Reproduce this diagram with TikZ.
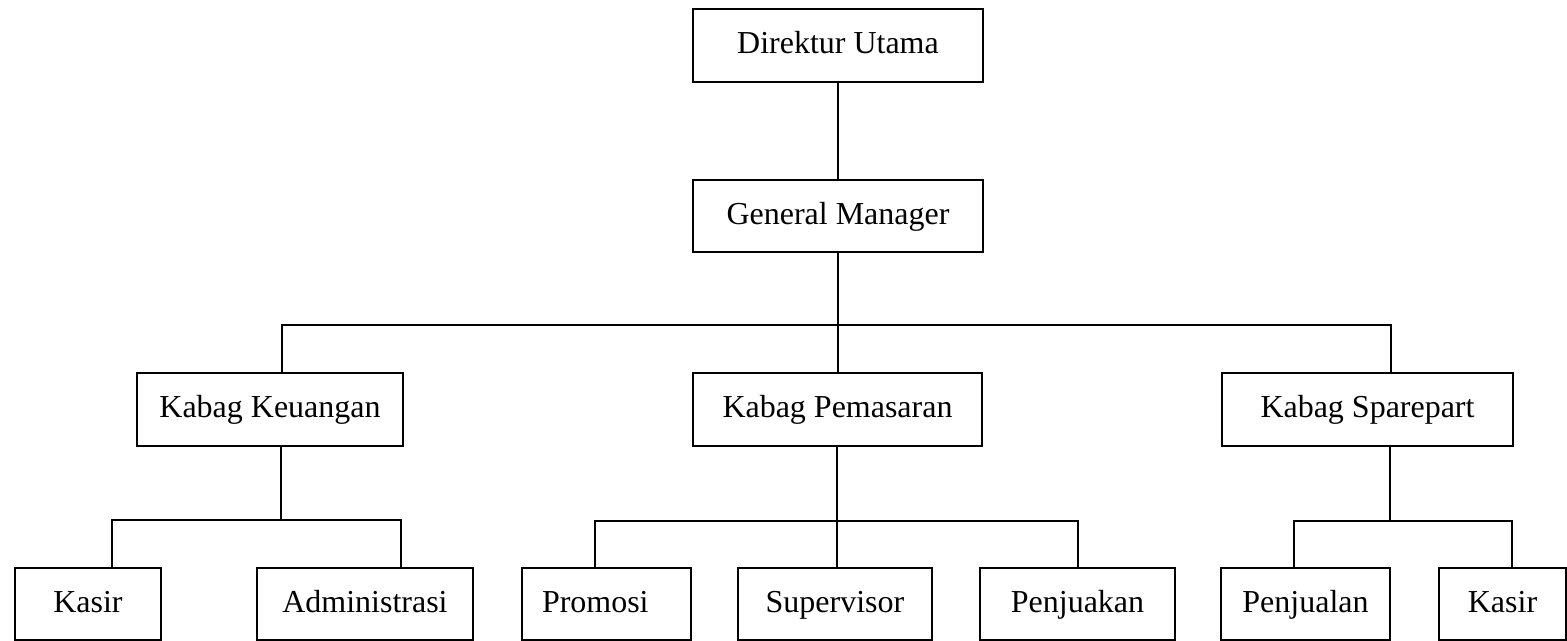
\documentclass[tikz,border=0pt]{standalone}
\usepackage{fontspec}
\setmainfont{Liberation Serif}

\tikzset{
  unit/.style={draw, line width=0.6pt, minimum height=0.73cm, inner sep=0pt,
    text height=0.69em, text depth=0.22em,
    font=\fontsize{9.1}{11}\selectfont},
  link/.style={line width=0.55pt},
}

\begin{document}
\begin{tikzpicture}
  \useasboundingbox (0,0) rectangle (15.67,-6.41);

  % Top levels
  \node[unit, minimum width=2.90cm] (du) at (8.38,-0.455) {Direktur Utama};
  \node[unit, minimum width=2.90cm, minimum height=0.72cm] (gm) at (8.38,-2.16) {General Manager};

  % Kepala bagian
  \node[unit, minimum width=2.66cm] (kk) at (2.70,-4.095) {Kabag Keuangan};
  \node[unit, minimum width=2.89cm] (kp) at (8.375,-4.095) {Kabag Pemasaran};
  \node[unit, minimum width=2.91cm] (ks) at (13.675,-4.095) {Kabag Sparepart};

  % Staf
  \node[unit, minimum width=1.46cm, minimum height=0.72cm] (kasa) at (0.88,-6.04) {Kasir};
  \node[unit, minimum width=2.16cm, minimum height=0.72cm] (adm) at (3.65,-6.04) {Administrasi};
  \node[unit, minimum height=0.72cm, text width=1.29cm, align=left, inner xsep=0.2cm] (pro) at (6.065,-6.04) {Promosi};
  \node[unit, minimum width=1.94cm, minimum height=0.72cm] (sup) at (8.35,-6.04) {Supervisor};
  \node[unit, minimum width=1.95cm, minimum height=0.72cm] (pjk) at (10.775,-6.04) {Penjuakan};
  \node[unit, minimum width=1.69cm, minimum height=0.72cm] (pjl) at (13.055,-6.04) {Penjualan};
  \node[unit, minimum width=1.27cm, minimum height=0.72cm] (kasb) at (15.025,-6.04) {Kasir};

  % Garis
  \coordinate (ma) at (8.38,-3.25);
  \coordinate (ka) at (2.81,-5.20);
  \coordinate (pa) at (8.37,-5.21);
  \coordinate (sa) at (13.90,-5.21);

  \draw[link] (du) -- (gm);
  \draw[link] (gm) -- (gm |- kp.north);
  \draw[link] ([xshift=1.2mm]kk.north) |- (ma) -| ([xshift=2.35mm]ks.north);

  \draw[link] (ka |- kk.south) -- (ka);
  \draw[link] ([xshift=2.4mm]kasa.north) |- (ka) -| ([xshift=3.6mm]adm.north);

  \draw[link] (pa |- kp.south) -- (pa |- sup.north);
  \draw[link] ([xshift=-1.15mm]pro.north) |- (pa) -| ([xshift=0.05mm]pjk.north);

  \draw[link] (sa |- ks.south) -- (sa);
  \draw[link] ([xshift=-1.15mm]pjl.north) |- (sa) -| ([xshift=0.95mm]kasb.north);
\end{tikzpicture}
\end{document}
